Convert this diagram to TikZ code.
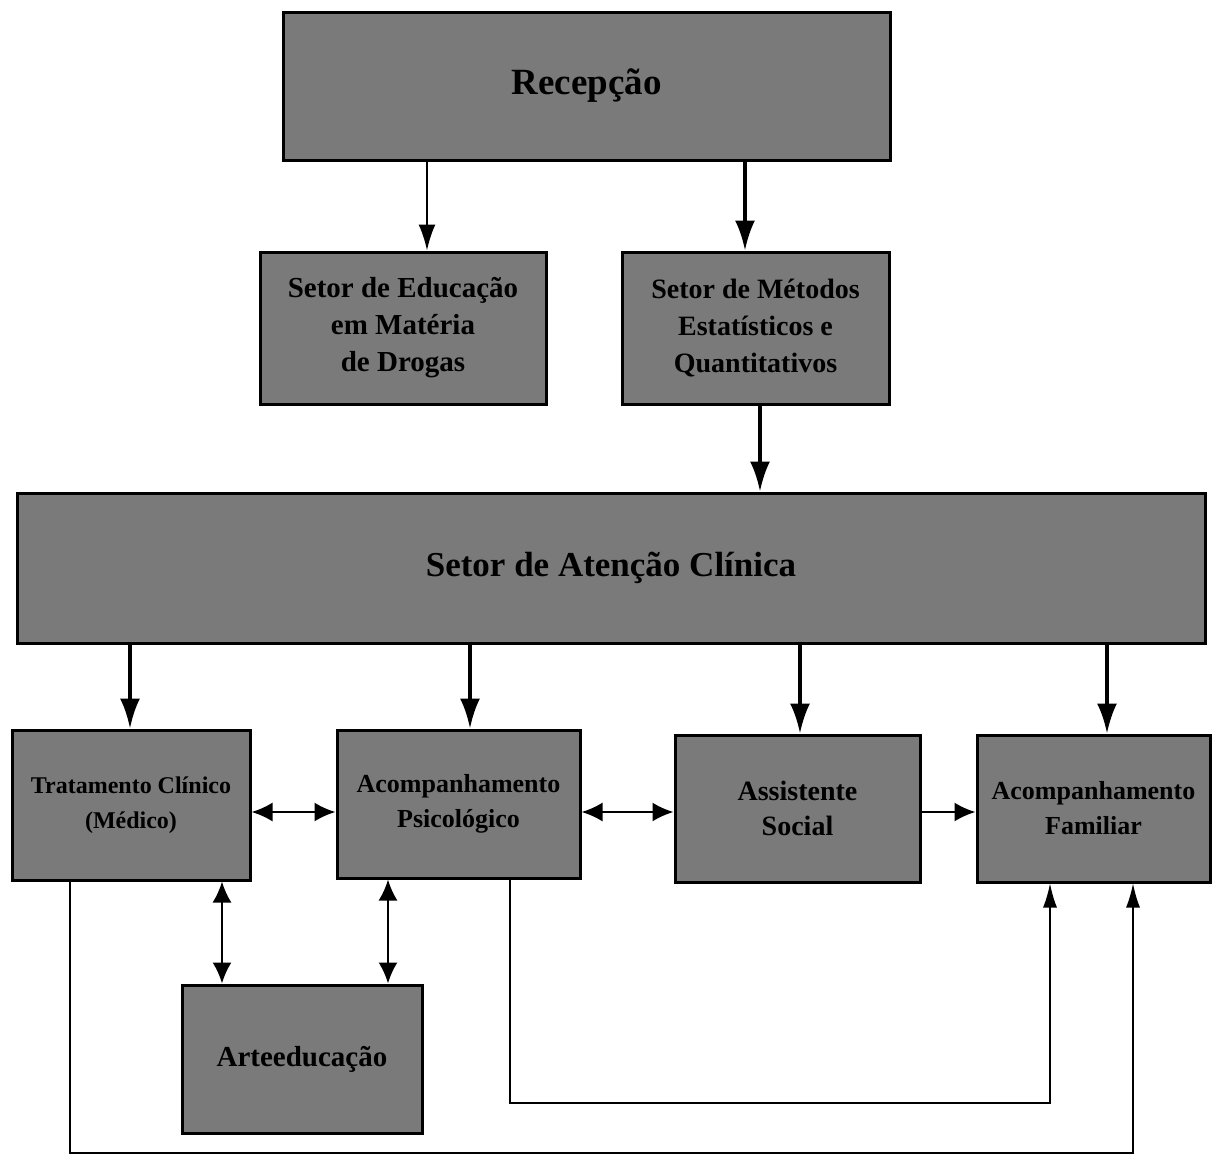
\documentclass[tikz,border=0pt]{standalone}
\usepackage{fontspec}
\setmainfont{Liberation Serif}
\usetikzlibrary{arrows.meta}
\begin{document}
\begin{tikzpicture}[x=1pt,y=-1pt,
  box/.style={draw=black,line width=3pt,fill=black!52,inner sep=0pt,align=center,font=\bfseries},
  arr/.style={line width=2.2pt,-{Latex[length=26pt,width=17pt]}},
  tarr/.style={line width=3.6pt,-{Latex[length=30pt,width=20pt]}},
  darr/.style={line width=2.2pt,{Latex[length=21pt,width=19pt]}-{Latex[length=21pt,width=19pt]}},
  harr/.style={line width=2.2pt,-{Latex[length=21pt,width=19pt]}},
  thin/.style={line width=1.4pt,-{Latex[length=24pt,width=14pt]}}]
\useasboundingbox (0,0) rectangle (1225,1159);
\node[box,minimum width=607pt,minimum height=148pt,font=\bfseries\fontsize{37}{42}\selectfont] (rec) at (586.5,86) {Recepção};
\node[box,minimum width=286pt,minimum height=152pt,font=\bfseries\fontsize{29}{37}\selectfont] (edu) at (403,328) {Setor de Educação\\em Matéria\\de Drogas};
\node[box,minimum width=267pt,minimum height=152pt,font=\bfseries\fontsize{28}{37}\selectfont] (met) at (755.5,328) {Setor de Métodos\\Estatísticos e\\Quantitativos};
\node[box,minimum width=1188pt,minimum height=150pt,font=\bfseries\fontsize{35}{40}\selectfont] (ate) at (611,568) {Setor de Atenção Clínica};
\node[box,minimum width=238pt,minimum height=150pt,font=\bfseries\fontsize{24}{35}\selectfont] (tra) at (131,805) {Tratamento Clínico\\(Médico)};
\node[box,minimum width=243pt,minimum height=148pt,font=\bfseries\fontsize{26}{35}\selectfont] (psi) at (458.5,804) {Acompanhamento\\Psicológico};
\node[box,minimum width=245pt,minimum height=147pt,font=\bfseries\fontsize{28}{35}\selectfont] (soc) at (797.5,808.5) {Assistente\\Social};
\node[box,minimum width=233pt,minimum height=147pt,font=\bfseries\fontsize{26}{35}\selectfont] (fam) at (1093.5,808.5) {Acompanhamento\\Familiar};
\node[box,minimum width=240pt,minimum height=148pt,font=\bfseries\fontsize{29}{35}\selectfont] (art) at (302,1059) {Arteeducação};
% x positions
\coordinate (x427) at (427,0);
\coordinate (x745) at (745,0);
\coordinate (x760) at (760,0);
\coordinate (x130) at (130,0);
\coordinate (x470) at (470,0);
\coordinate (x800) at (800,0);
\coordinate (x1107) at (1107,0);
\coordinate (x222) at (222,0);
\coordinate (x388) at (388,0);
\coordinate (x1050) at (1050,0);
\coordinate (x1133) at (1133,0);
\coordinate (y812) at (0,812);
\coordinate (c1) at (510,1103);
\coordinate (c2) at (70,1153);
% arrows
\draw[arr] (rec.south -| x427) -- (edu.north -| x427);
\draw[tarr] (rec.south -| x745) -- (met.north -| x745);
\draw[tarr] (met.south -| x760) -- (ate.north -| x760);
\draw[tarr] (ate.south -| x130) -- (tra.north -| x130);
\draw[tarr] (ate.south -| x470) -- (psi.north -| x470);
\draw[tarr] (ate.south -| x800) -- (soc.north -| x800);
\draw[tarr] (ate.south -| x1107) -- (fam.north -| x1107);
\draw[darr] (tra.east |- y812) -- (psi.west |- y812);
\draw[darr] (psi.east |- y812) -- (soc.west |- y812);
\draw[harr] (soc.east |- y812) -- (fam.west |- y812);
\draw[darr] (tra.south -| x222) -- (art.north -| x222);
\draw[darr] (psi.south -| x388) -- (art.north -| x388);
\draw[thin] (psi.south -| c1) -- (c1) -| (fam.south -| x1050);
\draw[thin] (tra.south -| c2) -- (c2) -| (fam.south -| x1133);
\end{tikzpicture}
\end{document}
